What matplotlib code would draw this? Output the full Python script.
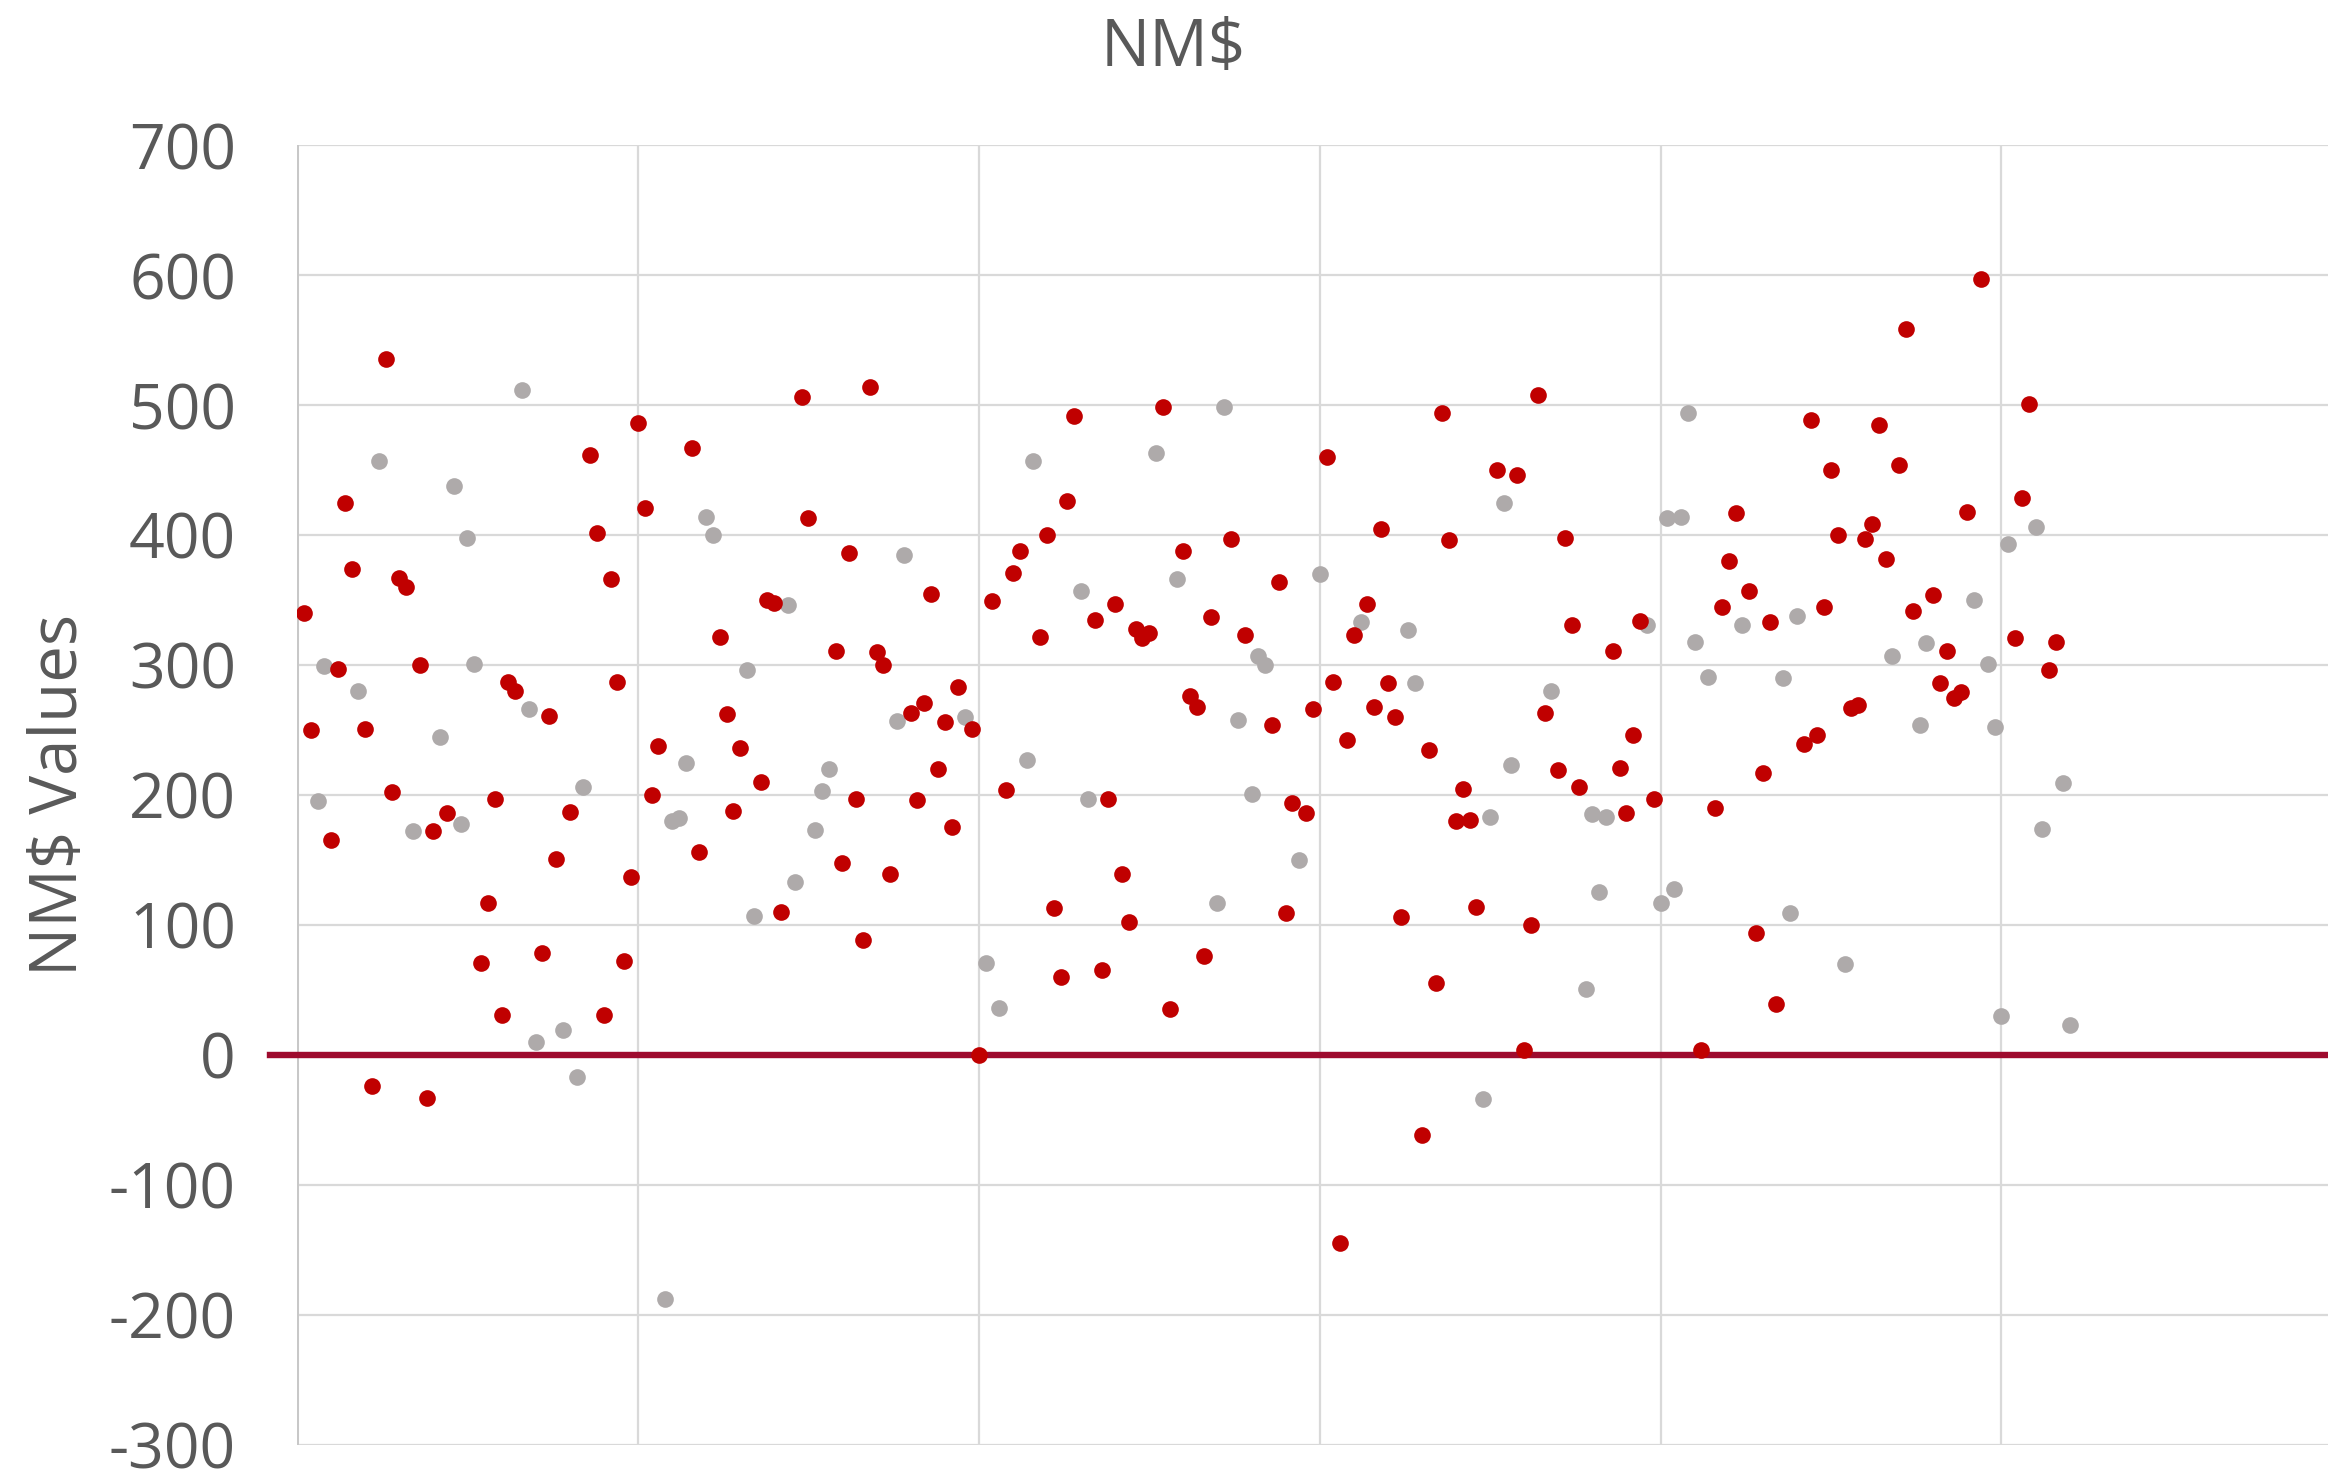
import matplotlib.pyplot as plt
import numpy as np

# NM$ value per record, in record order (1..260)
values = [
    340, 250, 195, 299, 165, 297, 425, 374, 280, 251,
    -24, 457, 536, 202, 367, 360, 172, 300, -33, 172,
    245, 186, 438, 178, 398, 301, 71, 117, 197, 31,
    287, 280, 512, 266, 10, 78, 261, 151, 19, 187,
    -17, 206, 462, 402, 31, 366, 287, 72, 137, 486,
    421, 200, 238, -188, 180, 182, 225, 467, 156, 414,
    400, 322, 262, 188, 236, 296, 107, 210, 350, 348,
    110, 346, 133, 506, 413, 173, 203, 220, 311, 148,
    386, 197, 88, 514, 310, 300, 139, 257, 385, 263,
    196, 271, 355, 220, 256, 175, 283, 260, 251, 0,
    71, 349, 36, 204, 371, 388, 227, 457, 322, 400,
    113, 60, 426, 492, 357, 197, 335, 65, 197, 347,
    139, 102, 328, 321, 325, 463, 499, 35, 366, 388,
    276, 268, 76, 337, 117, 499, 397, 258, 323, 201,
    307, 300, 254, 364, 109, 194, 150, 186, 266, 370,
    460, 287, -145, 242, 323, 333, 347, 268, 405, 286,
    260, 106, 327, 286, -62, 235, 55, 494, 396, 180,
    205, 181, 114, -34, 183, 450, 425, 223, 446, 4,
    100, 508, 263, 280, 219, 398, 331, 206, 51, 185,
    125, 183, 311, 221, 186, 246, 334, 331, 197, 117,
    413, 128, 414, 494, 318, 4, 291, 190, 345, 380,
    417, 331, 357, 94, 217, 333, 39, 290, 109, 338,
    239, 489, 246, 345, 450, 400, 70, 267, 269, 397,
    409, 485, 382, 307, 454, 559, 342, 254, 317, 354,
    286, 311, 275, 279, 418, 350, 597, 301, 252, 30,
    393, 321, 429, 501, 406, 174, 296, 318, 209, 23,
]

# R = flagged record, G = other record
groups = (
    "RRGGRRRRGR" "RGRRRRGRRR" "GRGGGGRRRR" "RRGGGRRRGR" "GGRRRRRRRR"
    "RRRGGGGRRG" "GRRRRGGRRR" "RGGRRGGGRR" "RRRRRRRGGR" "RRRRRRRGRR"
    "GRGRRRGGRR" "RRRRGGRRRR" "RRRRRGRRGR" "RRRRGGRGRG" "GGRRRRGRRG"
    "RRRRRGRRRR" "RRGGRRRRRR" "RRRGGRGGRR" "RRRGRRRRGG" "GGRRRRRGRG"
    "GGGGGRGRRR" "RGRRRRRGGG" "RRRRRRGRRR" "RRRGRRRGGR" "RRRRRGRGGG"
    "GRRRGGRRGG"
)

yticks = list(range(-300, 701, 100))
xgrid = list(range(0, 300, 50))

plt.rcParams['font.family'] = ['Open Sans', 'DejaVu Sans']
plt.rcParams['axes.unicode_minus'] = False

text_color = '#595959'
grid_color = '#D9D9D9'
colors = {'R': '#C00000', 'G': '#AEAAAA'}

x = np.arange(1, len(values) + 1)
y = np.array(values)
g = np.array(list(groups))

fig = plt.figure(figsize=(23.28, 14.71), dpi=100)
ax = fig.add_axes([0.1276, 0.018, 0.8724, 0.8831])

ax.set_xlim(0, 297.9)
ax.set_ylim(-300, 700)

for v in yticks:
    ax.axhline(v, color=grid_color, lw=1.6, zorder=0)
for v in xgrid[1:]:
    ax.axvline(v, color=grid_color, lw=1.6, zorder=0)
ax.axvline(0, color='#C8C8C8', lw=2.2, zorder=0)

# thick zero line, running a bit past the left edge of the plot
ax.axhline(0, xmin=-0.0133, xmax=1, color='#9E0B2E', lw=4.6,
           clip_on=False, zorder=1)

for key in ['G', 'R']:
    m = g == key
    ax.plot(x[m], y[m], 'o', ms=12, color=colors[key], mec='none', zorder=3)

for s in ax.spines.values():
    s.set_visible(False)

ax.set_xticks([])
ax.set_yticks(yticks)
ax.set_yticklabels([str(v) for v in yticks])
ax.tick_params(axis='y', length=0, pad=44, labelsize=45, labelcolor=text_color)

ax.set_ylabel('NM$ Values', fontsize=47, color=text_color)
ax.yaxis.set_label_coords(-0.1005, 0.5)

fig.text(0.504, 0.967, 'NM$', ha='center', va='center', fontsize=47, color=text_color)

fig.savefig('out.png', dpi=100)
